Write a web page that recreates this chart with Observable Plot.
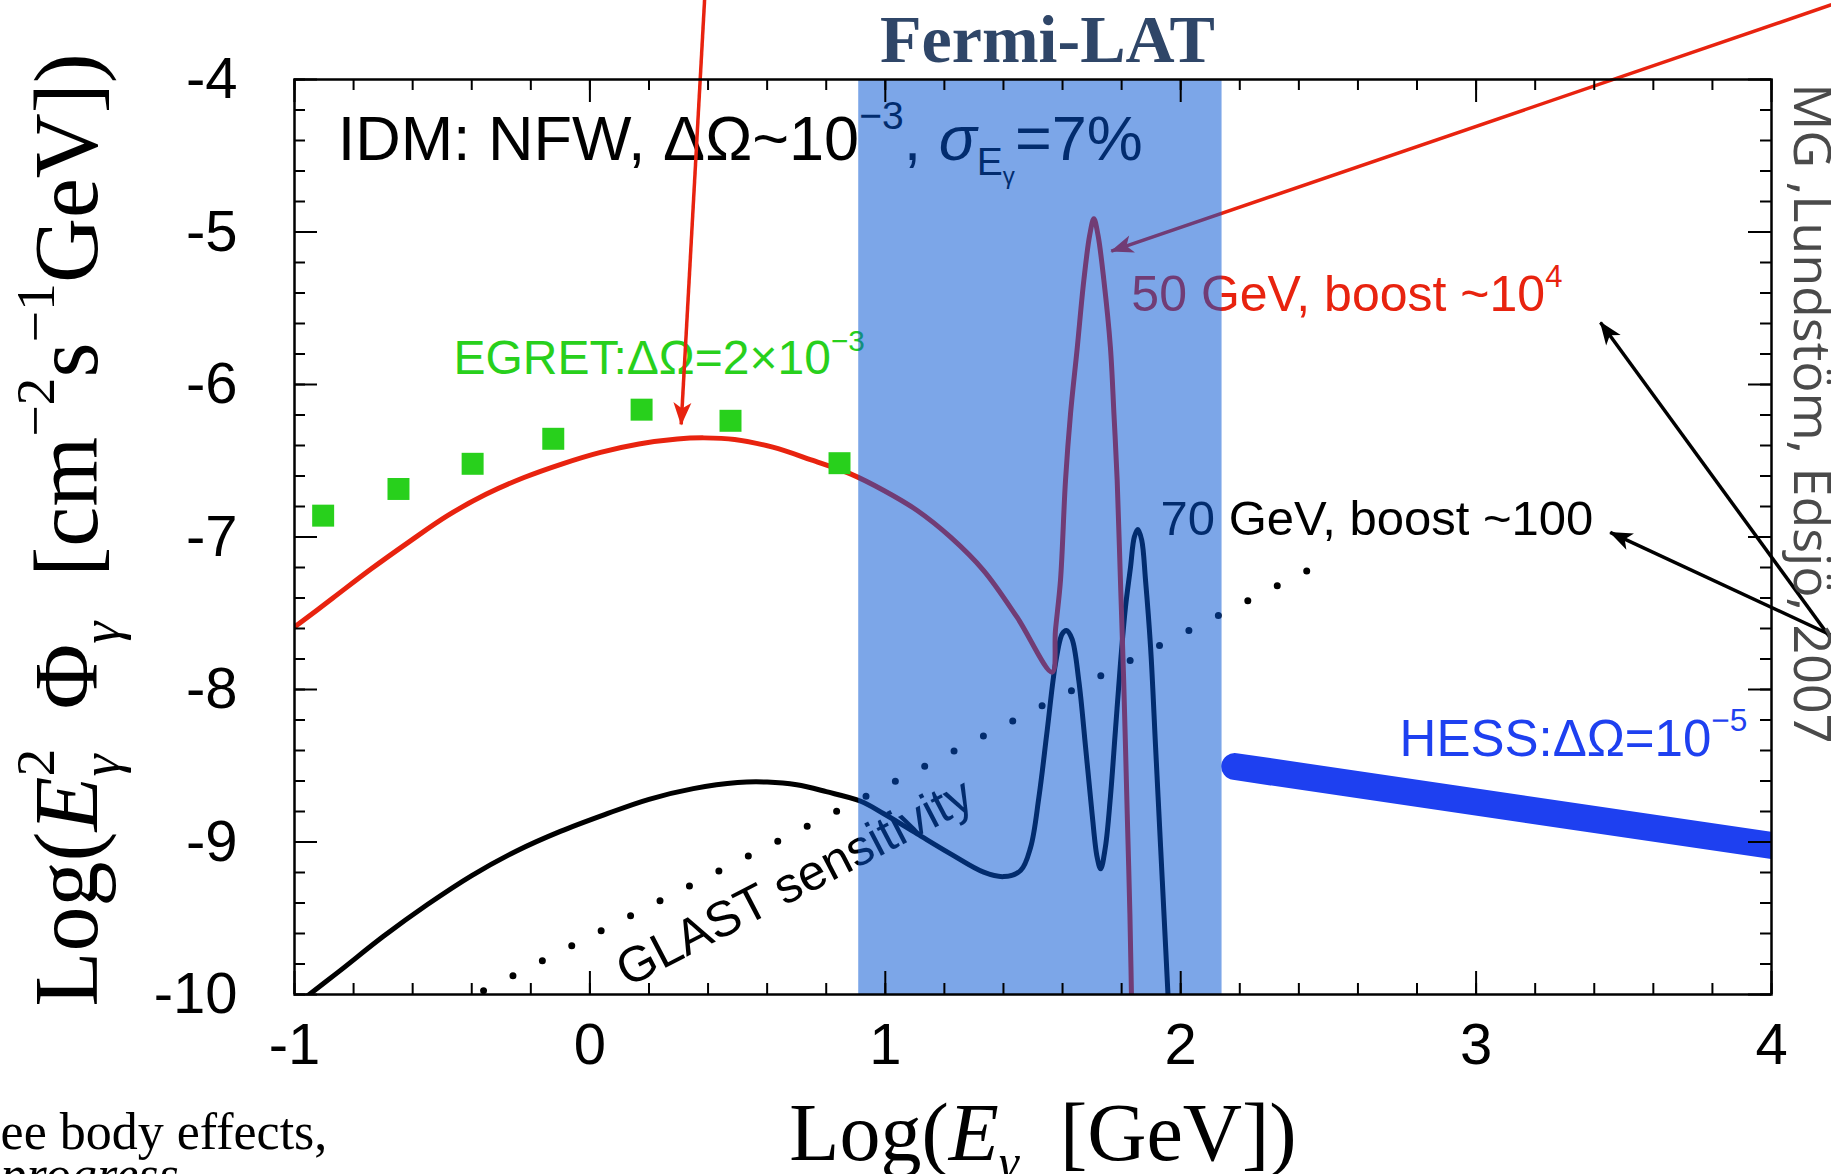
<!DOCTYPE html>
<html><head><meta charset="utf-8">
<script src="https://cdn.jsdelivr.net/npm/d3@7"></script>
<script src="https://cdn.jsdelivr.net/npm/@observablehq/plot@0.6"></script>
<style>
html,body{margin:0;padding:0;background:#fff;overflow:hidden;}
#chart svg{display:block;}
</style></head><body><div id="chart"></div>
<script>
// ---- data ----
const xDomain = [-1, 4];
const yDomain = [-10, -4];
const xMajor = [-1, 0, 1, 2, 3, 4];
const yMajor = [-10, -9, -8, -7, -6, -5, -4];
const xMinor = d3.range(-1, 4.0001, 0.2);
const yMinor = d3.range(-10, -3.9999, 0.2);

const fermiBand = [0.91, 2.14];

const egretX = [-0.903, -0.648, -0.397, -0.124, 0.175, 0.476, 0.845];
const egretY = [-6.86, -6.685, -6.52, -6.356, -6.165, -6.238, -6.516];

const red50X = [-1, -0.87, -0.741, -0.611, -0.482, -0.352, -0.223, -0.093, 0.036, 0.166, 0.296, 0.386, 0.49, 0.619, 0.749, 0.882, 0.995, 1.108, 1.221, 1.333, 1.446, 1.565, 1.576, 1.593, 1.61, 1.627, 1.65, 1.672, 1.692, 1.706, 1.72, 1.74, 1.762, 1.774, 1.785, 1.796, 1.807, 1.819, 1.828, 1.836];
const red50Y = [-7.591, -7.40, -7.21, -7.03, -6.86, -6.72, -6.61, -6.52, -6.445, -6.39, -6.357, -6.35, -6.36, -6.411, -6.494, -6.586, -6.695, -6.826, -7.001, -7.22, -7.526, -7.886, -7.613, -7.285, -6.63, -6.192, -5.755, -5.318, -5.02, -4.913, -5.02, -5.318, -5.755, -6.192, -6.63, -7.285, -7.941, -8.815, -9.471, -10.3];

const black70X = [-0.97, -0.85, -0.7, -0.55, -0.4, -0.25, -0.1, 0.05, 0.2, 0.35, 0.5, 0.6, 0.7, 0.8, 0.917, 0.995, 1.108, 1.221, 1.333, 1.401, 1.458, 1.492, 1.52, 1.548, 1.576, 1.599, 1.613, 1.632, 1.655, 1.678, 1.7, 1.717, 1.729, 1.745, 1.762, 1.779, 1.796, 1.813, 1.83, 1.843, 1.855, 1.868, 1.881, 1.898, 1.915, 1.932, 1.949, 1.962];
const black70Y = [-10.03, -9.85, -9.62, -9.41, -9.22, -9.06, -8.93, -8.82, -8.72, -8.65, -8.61, -8.607, -8.625, -8.67, -8.733, -8.815, -8.947, -9.078, -9.198, -9.227, -9.187, -9.034, -8.706, -8.269, -7.832, -7.635, -7.613, -7.668, -7.941, -8.378, -8.815, -9.099, -9.176, -9.034, -8.706, -8.269, -7.832, -7.461, -7.2, -7.0, -6.95, -7.02, -7.285, -7.722, -8.378, -9.034, -9.69, -10.2];

const glastX = [-0.36, 0.05, 0.875, 1.39, 2.0, 2.46];
const glastY = [-9.975, -9.57, -8.76, -8.247, -7.64, -7.19];

const hessX = [2.183, 4.0];
const hessY = [-8.505, -9.023];

// arrows: [x1, y1, x2, y2]  (tail -> head)
const redArrows = [[0.39, -3.416, 0.309, -6.262], [4.203, -3.51, 1.765, -5.126]];
const blackArrows = [[4.328, -8.003, 3.421, -5.593], [4.328, -7.757, 3.454, -6.97]];

// ---- marks ----
const FW = 1831 - 294 - 60, FH = 1174 - 79 - 180;
const pts = (X, Y) => X.map((x, i) => ({x, y: Y[i]}));
const arr = a => a.map(([x1, y1, x2, y2]) => ({x1, y1, x2, y2}));
const sans = "Liberation Sans, Arial, Helvetica, sans-serif";
const serif = "Liberation Serif, Times New Roman, serif";

// filled, barbed arrowhead marker
function filledHead(color, context) {
  const ns = "http://www.w3.org/2000/svg";
  const doc = (context && context.document) || document;
  const m = doc.createElementNS(ns, "marker");
  m.setAttribute("viewBox", "-24 -10 26 20");
  m.setAttribute("markerUnits", "userSpaceOnUse");
  m.setAttribute("markerWidth", 26);
  m.setAttribute("markerHeight", 20);
  m.setAttribute("refX", 0);
  m.setAttribute("refY", 0);
  m.setAttribute("orient", "auto");
  const p = doc.createElementNS(ns, "path");
  p.setAttribute("d", "M1,0L-22,-9L-16,0L-22,9Z");
  p.setAttribute("fill", color);
  p.setAttribute("stroke", "none");
  m.appendChild(p);
  return m;
}
function arrowMark(data, color) {
  try {
    return Plot.link(arr(data), {x1: "x1", y1: "y1", x2: "x2", y2: "y2", stroke: color, strokeWidth: 3.5, markerEnd: filledHead});
  } catch (e) {
    return Plot.arrow(arr(data), {x1: "x1", y1: "y1", x2: "x2", y2: "y2", stroke: color, strokeWidth: 3.5, headLength: 11, headAngle: 40});
  }
}

const svg = Plot.plot({
  width: 1831, height: 1174,
  marginLeft: 294, marginRight: 60, marginTop: 79, marginBottom: 180,
  x: {domain: xDomain, axis: null, label: null},
  y: {domain: yDomain, axis: null, label: null},
  style: {fontFamily: sans, background: "white", color: "black"},
  marks: [
    // curves
    Plot.line(pts(glastX, glastY), {x: "x", y: "y", stroke: "black", strokeWidth: 7, strokeDasharray: "0,33", strokeLinecap: "round", clip: true}),
    Plot.line(pts(black70X, black70Y), {x: "x", y: "y", stroke: "black", strokeWidth: 5, curve: "catmull-rom", clip: true}),
    Plot.line(pts(red50X, red50Y), {x: "x", y: "y", stroke: "#e8230f", strokeWidth: 5, curve: "catmull-rom", clip: true}),
    Plot.dot(pts(egretX, egretY), {x: "x", y: "y", symbol: "square", r: 12.4, fill: "#28d01c", stroke: null}),
    Plot.line(pts(hessX, hessY), {x: "x", y: "y", stroke: "#1e40f0", strokeWidth: 27, strokeLinecap: "round", clip: true}),
    // annotations
    Plot.text(["IDM: NFW, ΔΩ~10^{−3}, *{σ}_{E_{γ}}=7%"], {x: -0.854, y: -4.525, text: d => d, textAnchor: "start", lineAnchor: "bottom", fontSize: 63, fill: "black"}),
    Plot.text(["EGRET:ΔΩ=2×10^{−3}"], {x: -0.462, y: -5.934, text: d => d, textAnchor: "start", lineAnchor: "bottom", fontSize: 48, fill: "#28d01c"}),
    Plot.text(["50 GeV, boost ~10^{4}"], {x: 1.833, y: -5.515, text: d => d, textAnchor: "start", lineAnchor: "bottom", fontSize: 50, fill: "#e8230f"}),
    Plot.text(["70 GeV, boost ~100"], {x: 1.932, y: -6.99, text: d => d, textAnchor: "start", lineAnchor: "bottom", fontSize: 49, fill: "black"}),
    Plot.text(["HESS:ΔΩ=10^{−5}"], {x: 2.741, y: -8.433, text: d => d, textAnchor: "start", lineAnchor: "bottom", fontSize: 51, fill: "#1e40f0"}),
    Plot.text(["GLAST sensitivity"], {x: 0.693, y: -9.266, text: d => d, rotate: -27.5, fontSize: 50, fill: "black"}),
    arrowMark(redArrows, "#e8230f"),
    arrowMark(blackArrows, "black"),
    // Fermi-LAT band (translucent overlay)
    Plot.rect([fermiBand], {x1: d => d[0], x2: d => d[1], y1: yDomain[0], y2: yDomain[1], fill: "rgb(4,84,211)", fillOpacity: 0.52}),
    // frame & ticks
    Plot.frame({stroke: "black", strokeWidth: 2.5}),
    Plot.tickX(xMajor, {x: d => d, insetTop: FH - 23, stroke: "black", strokeWidth: 2}),
    Plot.tickX(xMinor, {x: d => d, insetTop: FH - 11, stroke: "black", strokeWidth: 2}),
    Plot.tickX(xMajor, {x: d => d, insetBottom: FH - 23, stroke: "black", strokeWidth: 2}),
    Plot.tickX(xMinor, {x: d => d, insetBottom: FH - 11, stroke: "black", strokeWidth: 2}),
    Plot.tickY(yMajor, {y: d => d, insetRight: FW - 23, stroke: "black", strokeWidth: 2}),
    Plot.tickY(yMinor, {y: d => d, insetRight: FW - 11, stroke: "black", strokeWidth: 2}),
    Plot.tickY(yMajor, {y: d => d, insetLeft: FW - 23, stroke: "black", strokeWidth: 2}),
    Plot.tickY(yMinor, {y: d => d, insetLeft: FW - 11, stroke: "black", strokeWidth: 2}),
    Plot.axisX(xMajor, {anchor: "bottom", tickSize: 0, tickPadding: 28, fontSize: 58, tickFormat: d => String(d), label: null}),
    Plot.axisY(yMajor, {anchor: "left", tickSize: 0, tickPadding: 57, fontSize: 58, tickFormat: d => String(d), label: null}),
    // axis titles
    Plot.text(["Log(*{E}_{*{γ}}  [GeV])"], {frameAnchor: "bottom", dx: 10, dy: 139, text: d => d, fontSize: 82, fontFamily: serif, lineAnchor: "middle"}),
    Plot.text(["Log(*{E}^{2}_{*{γ}}  Φ_{*{γ}}  [cm^{−2}s^{−1}GeV])"], {frameAnchor: "bottom-left", dx: -226, dy: 12, text: d => d, rotate: -90, textAnchor: "start", fontSize: 90, fontFamily: serif, lineAnchor: "middle"}),
    // title and slide fragments
    Plot.text(["Fermi-LAT"], {x: 1.549, y: -3.882, text: d => d, lineAnchor: "bottom", fontSize: 68, fontWeight: "bold", fontFamily: serif, fill: "#2f4668"}),
    Plot.text(["MG ,Lundstöm, Edsjö, 2007"], {x: 4.132, y: -6.19, text: d => d, rotate: 90, fontSize: 52, fontFamily: "Open Sans, sans-serif", fontWeight: 400, fill: "#4a4a4a"}),
    Plot.text(["ee body effects,"], {x: -1.995, y: -11.01, text: d => d, textAnchor: "start", lineAnchor: "bottom", fontSize: 52, fontFamily: serif}),
    Plot.text(["progress"], {x: -1.995, y: -11.298, text: d => d, textAnchor: "start", lineAnchor: "bottom", fontSize: 52, fontFamily: serif, fontStyle: "italic"})
  ]
});
document.getElementById("chart").appendChild(svg);

// ---- rich text: ^{sup} _{sub} *{italic} ----
function parseRich(s, shift = 0, scale = 1, italic = false, out = []) {
  let i = 0, buf = "", lastSup = false;
  const flush = () => { if (buf) { out.push({t: buf, shift, scale, italic}); buf = ""; lastSup = false; } };
  while (i < s.length) {
    const c = s[i];
    if ((c === "^" || c === "_" || c === "*") && s[i + 1] === "{") {
      flush();
      let depth = 1, j = i + 2;
      while (j < s.length && depth) { if (s[j] === "{") depth++; else if (s[j] === "}") depth--; j++; }
      const inner = s.slice(i + 2, j - 1);
      const start = out.length;
      if (c === "^") { parseRich(inner, shift + 0.48 * scale, scale * 0.62, italic, out); lastSup = true; }
      else if (c === "_") {
        parseRich(inner, shift - 0.24 * scale, scale * 0.62, italic, out);
        if (lastSup && out[start]) out[start].stack = true;
        lastSup = false;
      } else { parseRich(inner, shift, scale, true, out); lastSup = false; }
      i = j;
    } else { buf += c; i++; }
  }
  flush();
  return out;
}
d3.select(svg).selectAll("text").each(function () {
  const s = this.textContent;
  if (!/[\^_*]\{/.test(s)) return;
  const fs = +(this.getAttribute("font-size") || this.parentNode.getAttribute("font-size") || 10);
  const segs = parseRich(s);
  this.textContent = "";
  let cur = 0, prev = null;
  for (const g of segs) {
    const back = (g.stack && prev) ? prev.node().getComputedTextLength() : 0;
    const ts = d3.select(this).append("tspan").text(g.t);
    const off = g.shift * fs;
    ts.attr("dy", (-off - cur).toFixed(2));
    cur = -off;
    if (back) ts.attr("dx", (-back).toFixed(2));
    if (g.scale !== 1) ts.attr("font-size", (fs * g.scale).toFixed(1));
    if (g.italic) ts.attr("font-style", "italic");
    prev = ts;
  }
});
</script></body></html>
